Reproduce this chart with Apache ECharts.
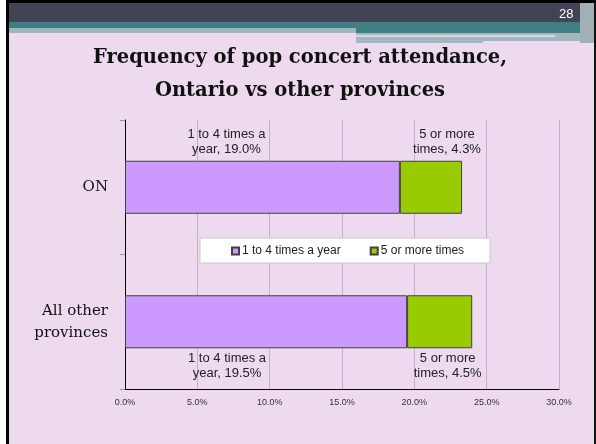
<!DOCTYPE html>
<html>
<head>
<meta charset="utf-8">
<script src="https://cdn.jsdelivr.net/npm/echarts@6/dist/echarts.min.js"></script>
<style>
html,body{margin:0;padding:0;background:#fff;}
#chart{width:596px;height:444px;}
</style>
</head>
<body>
<div id="chart"></div>
<script>
// ---- data ----
const categories = ['ON', 'All other\nprovinces'];
const seriesNames = ['1 to 4 times a year', '5 or more times'];
const oneToFour = [19.0, 19.5];
const fiveOrMore = [4.3, 4.5];
const xTickValues = [0, 5, 10, 15, 20, 25, 30];
const titleLines = ['Frequency of pop concert attendance,', 'Ontario vs other provinces'];
const pageNumber = '28';

// ---- layout / style (not data) ----
const BG = '#EDDAEE';
const labelLayout = {
  s0: [{ position: 'top', offset: [-36, 0] }, { position: 'bottom', offset: [-39, -1] }],
  s1: [{ position: 'top', offset: [16, 0] }, { position: 'bottom', offset: [8, -1] }]
};

function buildData(values, layouts) {
  return values.map((v, i) => ({ value: v, label: layouts[i] }));
}

const chart = echarts.init(document.getElementById('chart'), null, { renderer: 'canvas' });

const labelBase = {
  show: true,
  color: '#222',
  fontFamily: 'Liberation Sans, Arial, sans-serif',
  fontSize: 13,
  lineHeight: 15,
  distance: 4
};

const option = {
  backgroundColor: BG,
  animation: false,
  title: {
    text: titleLines.join('\n'),
    left: 300,
    top: 41,
    padding: 0,
    textAlign: 'center',
    textStyle: {
      fontFamily: 'DejaVu Serif, serif',
      fontWeight: 'bold',
      fontSize: 19.5,
      lineHeight: 33,
      color: '#111'
    }
  },
  grid: { left: 125, right: 37, top: 120, bottom: 55, containLabel: false },
  legend: {
    data: seriesNames,
    left: 200,
    top: 238,
    width: 292,
    backgroundColor: '#ffffff',
    borderColor: '#c8c8c8',
    borderWidth: 1,
    borderRadius: 0,
    padding: [7, 26, 6, 31],
    itemWidth: 7,
    itemHeight: 7,
    itemGap: 29,
    icon: 'rect',
    textStyle: { fontFamily: 'Liberation Sans, Arial, sans-serif', fontSize: 12, color: '#222', padding: [0, 0, 0, -2] }
  },
  xAxis: {
    type: 'value',
    min: 0,
    max: 30,
    interval: 5,
    axisLine: { show: true, lineStyle: { color: '#000', width: 1 } },
    axisTick: { show: false },
    splitLine: { show: true, lineStyle: { color: '#C6B0C8', width: 1 } },
    axisLabel: {
      margin: 9,
      color: '#333',
      fontFamily: 'Liberation Sans, Arial, sans-serif',
      fontSize: 9,
      formatter: v => xTickValues.includes(v) ? v.toFixed(1) + '%' : ''
    }
  },
  yAxis: {
    type: 'category',
    inverse: true,
    data: categories,
    axisLine: { show: true, lineStyle: { color: '#000', width: 1 } },
    axisTick: { show: true, length: 5, lineStyle: { color: '#999' } },
    axisLabel: {
      align: 'right',
      margin: 17,
      color: '#111',
      fontFamily: 'DejaVu Serif, serif',
      fontSize: 15,
      lineHeight: 22
    }
  },
  series: [
    {
      name: seriesNames[0],
      type: 'bar',
      stack: 'total',
      barWidth: 53,
      itemStyle: { color: '#CC99FF', borderColor: '#404040', borderWidth: 1 },
      label: Object.assign({}, labelBase, {
        formatter: p => '1 to 4 times a\nyear, ' + p.value.toFixed(1) + '%'
      }),
      data: buildData(oneToFour, labelLayout.s0)
    },
    {
      name: seriesNames[1],
      type: 'bar',
      stack: 'total',
      barWidth: 53,
      itemStyle: { color: '#99CC00', borderColor: '#404040', borderWidth: 1 },
      label: Object.assign({}, labelBase, {
        formatter: p => '5 or more\ntimes, ' + p.value.toFixed(1) + '%'
      }),
      data: buildData(fiveOrMore, labelLayout.s1)
    }
  ],
  graphic: [
    // slide frame and header decoration
    { type: 'rect', shape: { x: 0, y: 0, width: 6, height: 444 }, style: { fill: '#ffffff' }, silent: true },
    { type: 'rect', shape: { x: 6, y: 0, width: 3, height: 444 }, style: { fill: '#000' }, silent: true },
    { type: 'rect', shape: { x: 594, y: 0, width: 2, height: 444 }, style: { fill: '#111' }, silent: true },
    { type: 'rect', shape: { x: 6, y: 0, width: 590, height: 3 }, style: { fill: '#000' }, silent: true },
    { type: 'rect', shape: { x: 9, y: 3, width: 571, height: 19 }, style: { fill: '#434356' }, silent: true },
    { type: 'rect', shape: { x: 9, y: 22, width: 571, height: 6 }, style: { fill: '#3F7F82' }, silent: true },
    { type: 'rect', shape: { x: 9, y: 28, width: 347, height: 5 }, style: { fill: '#9DB6BA' }, silent: true },
    { type: 'rect', shape: { x: 356, y: 28, width: 224, height: 5 }, style: { fill: '#3F7F82' }, silent: true },
    { type: 'rect', shape: { x: 356, y: 33, width: 127, height: 10 }, style: { fill: '#A3B7BE' }, silent: true },
    { type: 'rect', shape: { x: 483, y: 33, width: 97, height: 8 }, style: { fill: '#A3B7BE' }, silent: true },
    { type: 'rect', shape: { x: 356, y: 35, width: 199, height: 2 }, style: { fill: '#DCD2E2' }, silent: true },
    { type: 'rect', shape: { x: 580, y: 3, width: 14, height: 40 }, style: { fill: '#9FB0B6' }, silent: true },
    { type: 'text', left: 559, top: 8, style: { text: pageNumber, fill: '#ffffff', font: '13px Liberation Sans, Arial, sans-serif' }, silent: true }
  ]
};

chart.setOption(option);
</script>
</body>
</html>
